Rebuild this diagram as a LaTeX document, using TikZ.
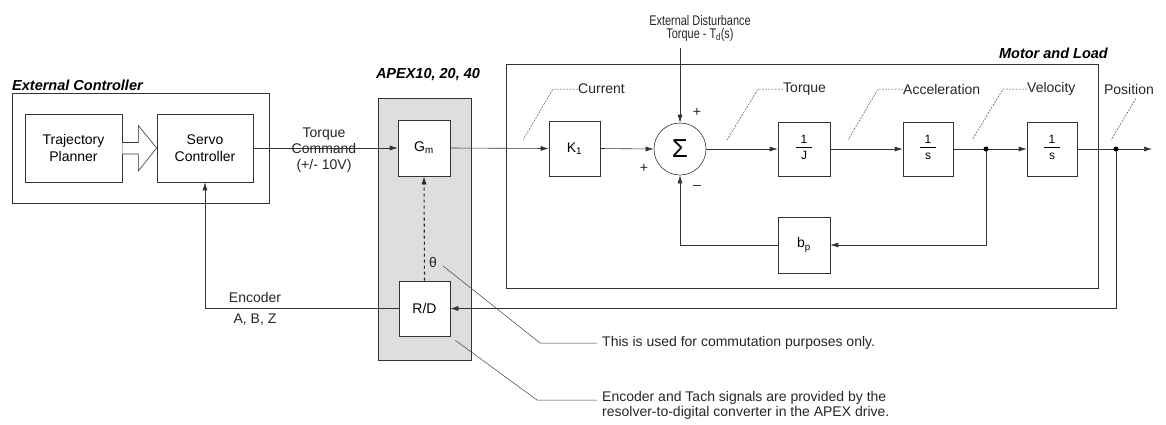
\documentclass[tikz,border=0pt]{standalone}
\usepackage{fontspec}
\setmainfont{Liberation Sans}
\usetikzlibrary{arrows.meta,calc}
\newcommand\frc[2]{{\fontsize{12}{13}\selectfont\begin{tabular}{@{\hspace{5pt}}c@{\hspace{5pt}}}#1\\[-1pt]\hline\noalign{\vskip 3pt}#2\end{tabular}}}
\newcommand\nar[1]{\scalebox{0.78}[1]{#1}}
\begin{document}
\begin{tikzpicture}[x=1pt,y=-1pt,
  ln/.style={line width=0.6pt,draw=black!80},
  box/.style={ln,rectangle,inner sep=0pt,fill=white,font=\fontsize{14}{17}\selectfont,align=center},
  frame/.style={ln,rectangle,inner sep=0pt},
  sig/.style={ln,-{Latex[length=8pt,width=5pt]}},
  wire/.style={ln},
  lead/.style={line width=0.5pt,draw=black!70,dash pattern=on 2pt off 1.2pt},
  leads/.style={line width=0.5pt,draw=black!75},
  lbl/.style={font=\fontsize{14}{16}\selectfont,inner sep=0pt,text=black!85},
  ttl/.style={font=\fontsize{14.5}{16}\selectfont\bfseries\itshape,inner sep=0pt},
  dot/.style={circle,fill=black,inner sep=0pt,minimum size=5pt},
]
\useasboundingbox (0,0) rectangle (1166,424);

% frames
\node[frame,minimum width=257pt,minimum height=110pt] (ext) at (140.5,148) {};
\node[ttl,anchor=base west] (extlbl) at (12,90) {External Controller};
\node[frame,fill=black!13,minimum width=93pt,minimum height=262pt] (apex) at (424.5,229) {};
\node[ttl,anchor=base] (apexlbl) at (428,78) {APEX10, 20, 40};
\node[frame,minimum width=592pt,minimum height=224pt] (motor) at (802,176) {};
\node[ttl,anchor=base east] (motorlbl) at (1108,58) {Motor and Load};

% blocks
\node[box,minimum width=97pt,minimum height=68pt] (traj) at (73.5,148) {Trajectory\\Planner};
\node[box,minimum width=96pt,minimum height=68pt] (servo) at (205,148) {Servo\\Controller};
\node[box,minimum width=52pt,minimum height=56pt] (gm) at (424,148) {G\textsubscript{m}};
\node[box,minimum width=51pt,minimum height=55pt] (rd) at (424.5,308.5) {R/D};
\node[box,minimum width=51pt,minimum height=55pt] (k1) at (574.5,148.5) {K\textsubscript{1}};
\node[ln,circle,fill=white,inner sep=0pt,minimum size=52pt] (sum) at (680,149) {\fontsize{26}{26}\selectfont Σ};
\node[box,minimum width=52pt,minimum height=54pt] (invJ) at (804,149) {\frc{1}{J}};
\node[box,minimum width=50pt,minimum height=54pt] (invs1) at (928,149) {\frc{1}{s}};
\node[box,minimum width=50pt,minimum height=54pt] (invs2) at (1052,149) {\frc{1}{s}};
\node[box,minimum width=52pt,minimum height=56pt] (bp) at (804,245) {b\textsubscript{p}};

% hollow arrow
\draw[ln,fill=white] ($(traj.east)+(0,-5.5)$) -- ++(16,0) -- ++(0,-17) -- ($(servo.west)+(0,0)$) -- ($(traj.east)+(16,23)$) -- ++(0,-17) -- ($(traj.east)+(0,6)$);

% coordinates
\coordinate (veld) at (986,149);
\coordinate (posd) at (1116,149);
\coordinate (out) at (1152,149);

% signal path
\draw[sig] (servo.east) -- (gm.west);
\draw[sig] (gm.east) -- (k1.west);
\draw[sig] (k1.east) -- (sum.west);
\draw[sig] (sum.east) -- (invJ.west);
\draw[sig] (invJ.east) -- (invs1.west);
\draw[wire] (invs1.east) -- (veld);
\draw[sig] (veld) -- (invs2.west);
\draw[wire] (invs2.east) -- (posd);
\draw[sig] (posd) -- (out);
\draw[sig] (veld) |- (bp.east);
\draw[sig] (bp.west) -| (sum.south);
\draw[sig] (posd) |- (rd.east);
\draw[sig] (rd.west) -| (servo.south);
\draw[line width=1.1pt,draw=black!85,dashed,-{Latex[length=8pt,width=5pt]}] (rd.north) -- (gm.south);
\node[dot] (vdot) at (veld) {};
\node[dot] (pdot) at (posd) {};

% disturbance
\node[lbl,align=center,font=\fontsize{14}{13}\selectfont] (distl) at (700,28) {\nar{External Disturbance}\\\nar{Torque - T\textsubscript{d}(s)}};
\draw[sig] ($(sum.north |- distl.south)+(0,7)$) -- (sum.north);
\node[lbl] (p1) at (697,112) {+};
\node[lbl] (p2) at (644,168) {+};
\node[lbl] (m1) at (697,187) {–};

% signal labels with leaders
\node[lbl,anchor=west] (curl) at (578,89) {Current};
\coordinate (curp) at (523,140);
\draw[lead] (curl.west) -- ++(-25,0) -- (curp);
\node[lbl,anchor=west] (torl) at (783,89) {Torque};
\coordinate (torp) at (727,140);
\draw[lead] (torl.west) -- ++(-25,0) -- (torp);
\node[lbl,anchor=west] (accl) at (903,89) {Acceleration};
\coordinate (accp) at (848,140);
\draw[lead] (accl.west) -- ++(-25,0) -- (accp);
\node[lbl,anchor=west] (vell) at (1027,89) {Velocity};
\coordinate (velp) at (972,140);
\draw[lead] (vell.west) -- ++(-24,0) -- (velp);
\node[lbl] (posl) at (1129,89) {Position};
\coordinate (posp) at (1111,140);
\draw[lead] ($(posl.south)+(7,4)$) -- (posp);

\node[lbl,align=center,font=\fontsize{14}{16}\selectfont] (tcl) at (324,150) {Torque\\Command\\(+/- 10V)};
\node[lbl] (encl) at (255,297) {Encoder};
\node[lbl] (abz) at (255,320) {A, B, Z};

% notes
\node[lbl] (th) at (433,262) {θ};
\node[lbl,anchor=west] (note1) at (602,343) {This is used for commutation purposes only.};
\draw[leads] ($(th.east)+(6,4)$) -- ($(note1.west)+(-62,0)$) -- ($(note1.west)+(-5,0)$);
\node[lbl,anchor=north west,align=left,font=\fontsize{14}{15}\selectfont] (note2) at (602,391) {Encoder and Tach signals are provided by the\\resolver-to-digital converter in the APEX drive.};
\coordinate (n2a) at (597,400);
\draw[leads] ($(rd.south east)+(5,4)$) -- ($(n2a)+(-60,0)$) -- (n2a);
\end{tikzpicture}
\end{document}
